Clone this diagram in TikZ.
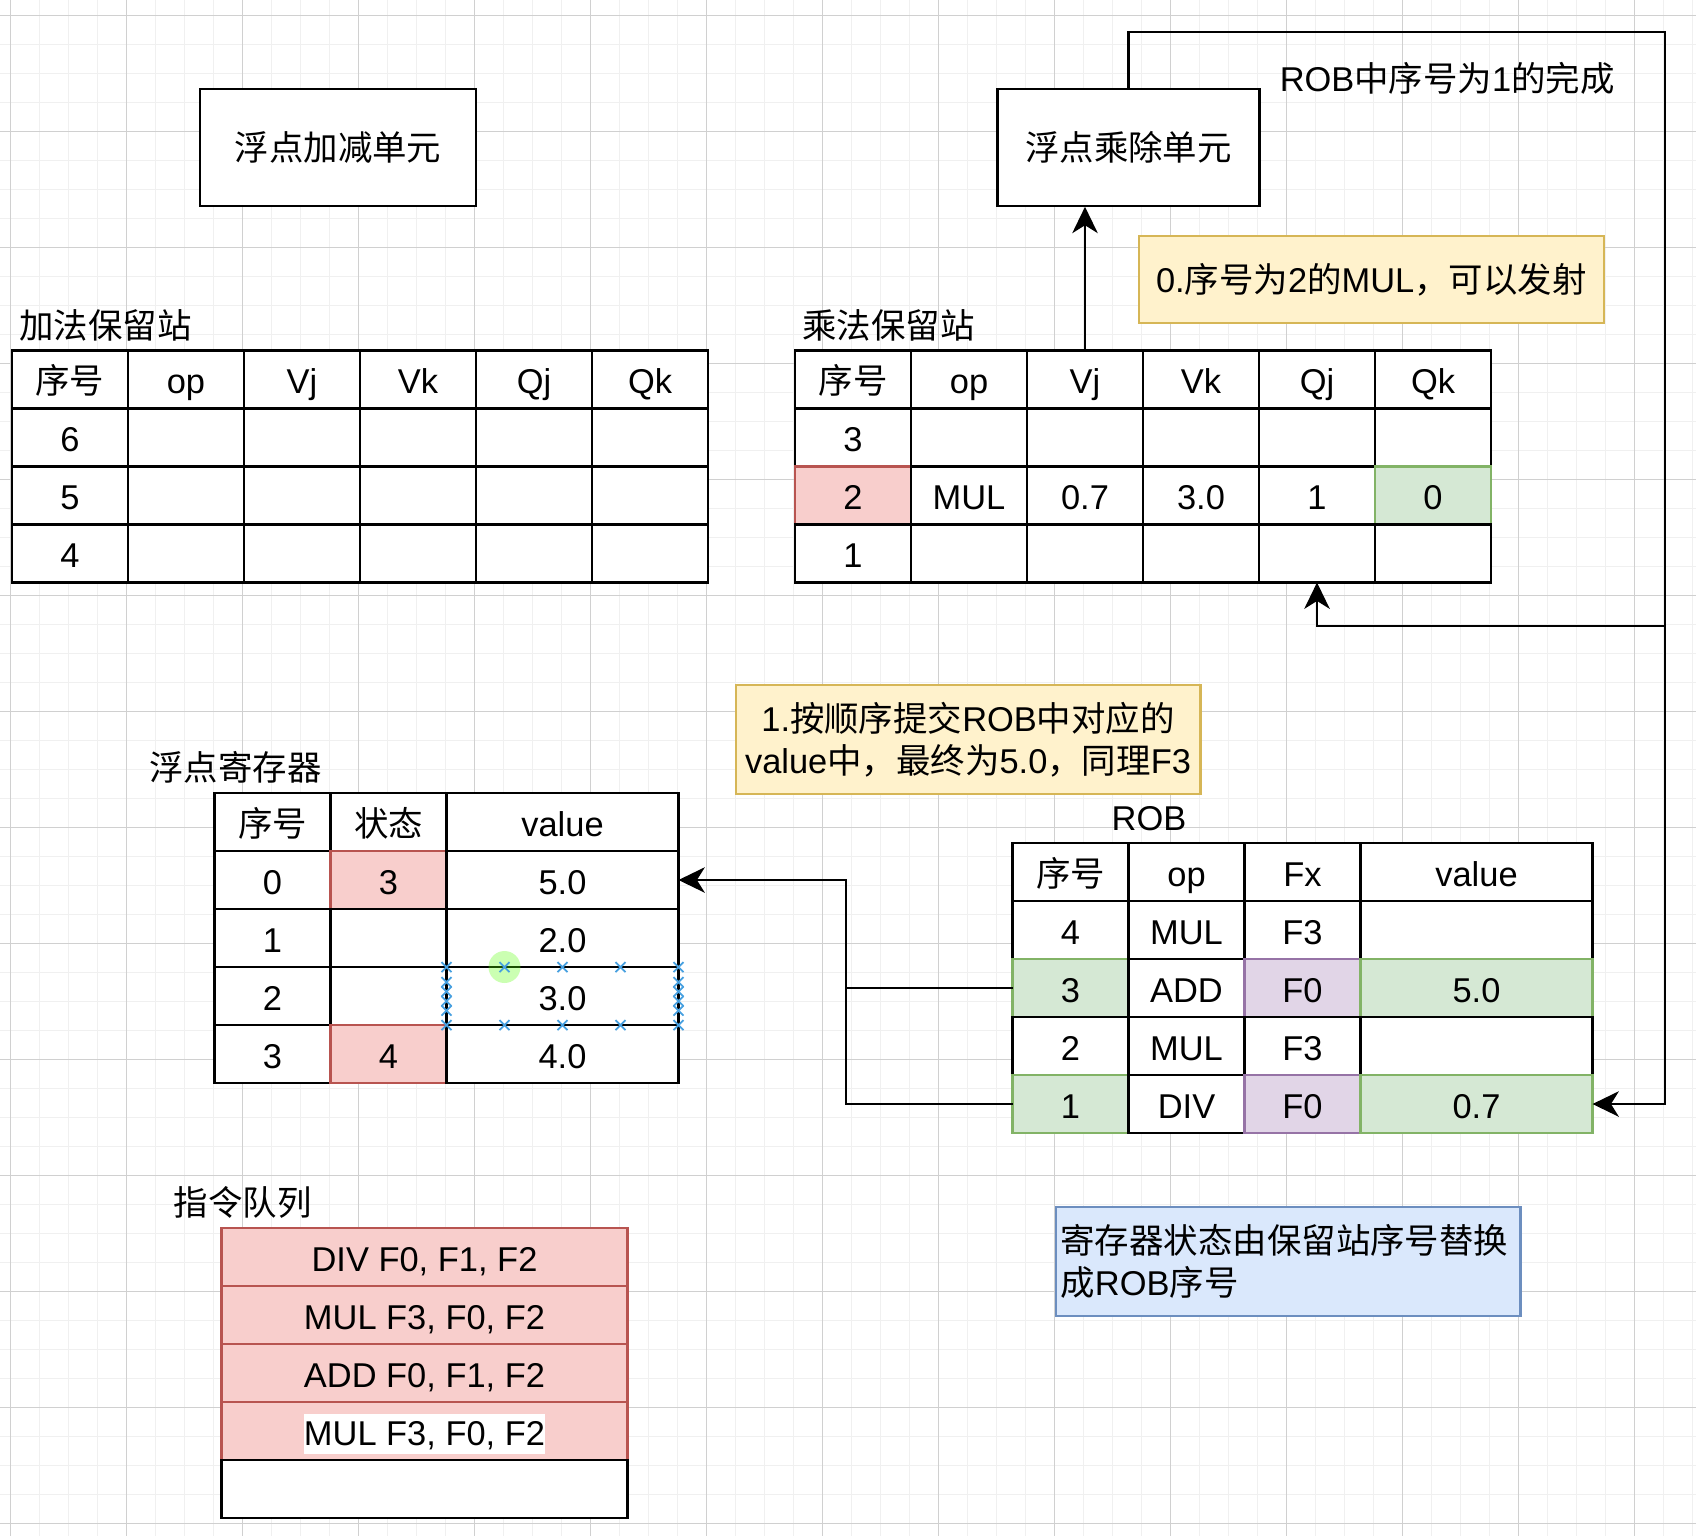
\documentclass[tikz,border=0pt]{standalone}
\usepackage{fontspec}
\setmainfont{Liberation Sans}
\newfontfamily\cjk{Noto Sans CJK SC}
\usetikzlibrary{arrows.meta, positioning}

\definecolor{pinkfill}{HTML}{F8CECC}
\definecolor{pinkline}{HTML}{B85450}
\definecolor{greenfill}{HTML}{D5E8D4}
\definecolor{greenline}{HTML}{82B366}
\definecolor{purplefill}{HTML}{E1D5E7}
\definecolor{purpleline}{HTML}{9673A6}
\definecolor{yellowfill}{HTML}{FFF2CC}
\definecolor{yellowline}{HTML}{D6B656}
\definecolor{bluefill}{HTML}{DAE8FC}
\definecolor{blueline}{HTML}{6C8EBF}
\definecolor{gridmajor}{HTML}{D0D0D0}
\definecolor{gridminor}{HTML}{F0F0F0}
\definecolor{selblue}{HTML}{47A0E0}

\newcommand{\diagfont}{\fontsize{19.6pt}{23.6pt}\selectfont}

\tikzstyle{minorline} = [draw=gridminor, line width=0.5pt]
\tikzstyle{majorline} = [draw=gridmajor, line width=0.5pt]
\tikzstyle{tcell} = [rectangle, draw, fill=white, line width=1.2pt, minimum width=2.32cm, minimum height=1.16cm, inner sep=0pt, outer sep=0pt, text height=19.7pt, text depth=3.3pt]
\tikzstyle{widecell} = [tcell, minimum width=4.64cm]
\tikzstyle{qcell} = [tcell, minimum width=8.12cm]
\tikzstyle{pinkcell} = [fill=pinkfill, draw=pinkline]
\tikzstyle{greencell} = [fill=greenfill, draw=greenline]
\tikzstyle{purplecell} = [fill=purplefill, draw=purpleline]
\tikzstyle{fpunit} = [rectangle, draw, fill=white, line width=1.2pt, minimum height=2.33cm]
\tikzstyle{note} = [rectangle, draw, line width=1.2pt, align=center, inner sep=0pt, minimum width=9.3cm]
\tikzstyle{tablename} = [inner sep=0pt, text height=18.6pt, text depth=3.3pt]
\tikzstyle{highlight} = [fill=white, inner sep=0pt, text height=17.6pt, text depth=5.1pt]
\tikzstyle{selmark} = [draw=selblue, line width=1pt]
\tikzstyle{wire} = [line width=1.2pt]
\tikzstyle{arrow} = [line width=1.2pt, -{Stealth[length=15pt, width=14.5pt, inset=4.5pt]}]

\begin{document}
\begin{tikzpicture}[x=0.02cm, y=-0.02cm, font=\diagfont]
    \useasboundingbox (0,0) rectangle (1696,1536);

    % Background grid
    \foreach \i in {0,...,58}
        \draw [minorline] ({10.7+29*\i},0) -- ({10.7+29*\i},1536);
    \foreach \j in {0,...,52}
        \draw [minorline] (0,{15.3+29*\j}) -- (1696,{15.3+29*\j});
    \foreach \i in {0,...,14}
        \draw [majorline] ({10.7+116*\i},0) -- ({10.7+116*\i},1536);
    \foreach \j in {0,...,13}
        \draw [majorline] (0,{15.3+116*\j}) -- (1696,{15.3+116*\j});

    % Functional units
    \node (addunit) [fpunit, minimum width=5.52cm] at (338, 147.5) {\cjk 浮点加减单元};
    \node (mulunit) [fpunit, minimum width=5.24cm] at (1128.5, 147.5) {\cjk 浮点乘除单元};
    \node (cdblabel) [tablename, anchor=west] at (1279.4, 78) {ROB{\cjk 中序号为}1{\cjk 的完成}};

    % Notes
    \node (note0) [note, fill=yellowfill, draw=yellowline, minimum height=1.75cm] at (1371.3, 279.5) {0.{\cjk 序号为}2{\cjk 的}MUL{\cjk ，可以发射}};
    \node (note1) [note, fill=yellowfill, draw=yellowline, minimum height=2.19cm] at (968, 739.5) {1.{\cjk 按顺序提交}ROB{\cjk 中对应的}\\value{\cjk 中，最终为}5.0{\cjk ，同理}F3};
    \node (note2) [note, fill=bluefill, draw=blueline, minimum height=2.18cm, text width=9.1cm, inner xsep=0.1cm, align=left] at (1288, 1261.5) {{\cjk 寄存器状态由保留站序号替换}\\{\cjk 成}ROB{\cjk 序号}};

    % Add reservation station
    \node (addname) [tablename, anchor=west] at (19, 325) {\cjk 加法保留站};
    \foreach \t [count=\c from 0] in {{\cjk 序号},op,Vj,Vk,Qj,Qk}
        \node (add0-\c) [tcell] at ({70+116*\c}, 379.5) {\t};
    \foreach \n [count=\r] in {6,5,4} {
        \node (add\r-0) [tcell] at (70, {379.5+58*\r}) {\n};
        \foreach \c in {1,...,5}
            \node (add\r-\c) [tcell] at ({70+116*\c}, {379.5+58*\r}) {};
    }

    % Mul reservation station
    \node (mulname) [tablename, anchor=west] at (802, 325) {\cjk 乘法保留站};
    \foreach \t [count=\c from 0] in {{\cjk 序号},op,Vj,Vk,Qj,Qk}
        \node (mul0-\c) [tcell] at ({853+116*\c}, 379.5) {\t};
    \node (mul1-0) [tcell] at (853, 437.5) {3};
    \foreach \c in {1,...,5}
        \node (mul1-\c) [tcell] at ({853+116*\c}, 437.5) {};
    \node (mul2-0) [tcell, pinkcell] at (853, 495.5) {2};
    \node (mul2-1) [tcell] at (969, 495.5) {MUL};
    \node (mul2-2) [tcell] at (1085, 495.5) {0.7};
    \node (mul2-3) [tcell] at (1201, 495.5) {3.0};
    \node (mul2-4) [tcell] at (1317, 495.5) {1};
    \node (mul2-5) [tcell, greencell] at (1433, 495.5) {0};
    \node (mul3-0) [tcell] at (853, 553.5) {1};
    \foreach \c in {1,...,5}
        \node (mul3-\c) [tcell] at ({853+116*\c}, 553.5) {};

    % Register file
    \node (regname) [tablename, anchor=west] at (149, 767.5) {\cjk 浮点寄存器};
    \node (reg0-0) [tcell] at (272.5, 822) {\cjk 序号};
    \node (reg0-1) [tcell] at (388.5, 822) {\cjk 状态};
    \node (reg0-2) [widecell] at (562.5, 822) {value};
    \node (reg1-0) [tcell] at (272.5, 880) {0};
    \node (reg1-1) [tcell, pinkcell] at (388.5, 880) {3};
    \node (reg1-2) [widecell] at (562.5, 880) {5.0};
    \node (reg2-0) [tcell] at (272.5, 938) {1};
    \node (reg2-1) [tcell] at (388.5, 938) {};
    \node (reg2-2) [widecell] at (562.5, 938) {2.0};
    \node (reg3-0) [tcell] at (272.5, 996) {2};
    \node (reg3-1) [tcell] at (388.5, 996) {};
    \node (reg3-2) [widecell] at (562.5, 996) {3.0};
    \node (reg4-0) [tcell] at (272.5, 1054) {3};
    \node (reg4-1) [tcell, pinkcell] at (388.5, 1054) {4};
    \node (reg4-2) [widecell] at (562.5, 1054) {4.0};

    % ROB
    \node (robname) [tablename] at (1149, 817) {ROB};
    \node (rob0-0) [tcell] at (1070.5, 872) {\cjk 序号};
    \node (rob0-1) [tcell] at (1186.5, 872) {op};
    \node (rob0-2) [tcell] at (1302.5, 872) {Fx};
    \node (rob0-3) [widecell] at (1476.5, 872) {value};
    \node (rob1-0) [tcell] at (1070.5, 930) {4};
    \node (rob1-1) [tcell] at (1186.5, 930) {MUL};
    \node (rob1-2) [tcell] at (1302.5, 930) {F3};
    \node (rob1-3) [widecell] at (1476.5, 930) {};
    \node (rob2-0) [tcell, greencell] at (1070.5, 988) {3};
    \node (rob2-1) [tcell] at (1186.5, 988) {ADD};
    \node (rob2-2) [tcell, purplecell] at (1302.5, 988) {F0};
    \node (rob2-3) [widecell, greencell] at (1476.5, 988) {5.0};
    \node (rob3-0) [tcell] at (1070.5, 1046) {2};
    \node (rob3-1) [tcell] at (1186.5, 1046) {MUL};
    \node (rob3-2) [tcell] at (1302.5, 1046) {F3};
    \node (rob3-3) [widecell] at (1476.5, 1046) {};
    \node (rob4-0) [tcell, greencell] at (1070.5, 1104) {1};
    \node (rob4-1) [tcell] at (1186.5, 1104) {DIV};
    \node (rob4-2) [tcell, purplecell] at (1302.5, 1104) {F0};
    \node (rob4-3) [widecell, greencell] at (1476.5, 1104) {0.7};

    % Instruction queue
    \node (queuename) [tablename, anchor=west] at (173.4, 1202.5) {\cjk 指令队列};
    \node (q1) [qcell, pinkcell] at (424.5, 1257) {DIV F0, F1, F2};
    \node (q2) [qcell, pinkcell, below=0pt of q1] {MUL F3, F0, F2};
    \node (q3) [qcell, pinkcell, below=0pt of q2] {ADD F0, F1, F2};
    \node (q4) [qcell, pinkcell, below=0pt of q3] {};
    \node (q4text) [highlight, anchor=base] at (q4.base) {MUL F3, F0, F2};
    \node (q5) [qcell, below=0pt of q4] {};

    % Arrows
    \coordinate (cdb) at (1665, 31.6);
    \coordinate (tap) at (1665, 626);
    \coordinate (bend) at (846, 0);
    \draw [arrow] (mul0-2.north) -- (mulunit.south -| mul0-2.north);
    \draw [arrow] (mulunit.north) |- (cdb) |- (rob4-3.east);
    \draw [arrow] (tap) -| (mul3-4.south);
    \draw [arrow] (rob2-0.west) -| (bend |- reg1-2.east) -- (reg1-2.east);
    \draw [wire] (rob4-0.west) -| (bend |- rob2-0.west);

    % Selection marks
    \fill [green!55!lime, opacity=0.3] (504.5, 967) circle (0.32cm);
    \foreach \x/\y in {446.5/967, 504.5/967, 562.5/967, 620.5/967, 678.5/967,
                       446.5/1025, 504.5/1025, 562.5/1025, 620.5/1025, 678.5/1025,
                       446.5/982, 446.5/991.5, 446.5/1001, 446.5/1010.5,
                       678.5/982, 678.5/991.5, 678.5/1001, 678.5/1010.5}
        \draw [selmark] ({\x-5},{\y-5}) -- ({\x+5},{\y+5}) ({\x-5},{\y+5}) -- ({\x+5},{\y-5});
\end{tikzpicture}
\end{document}
